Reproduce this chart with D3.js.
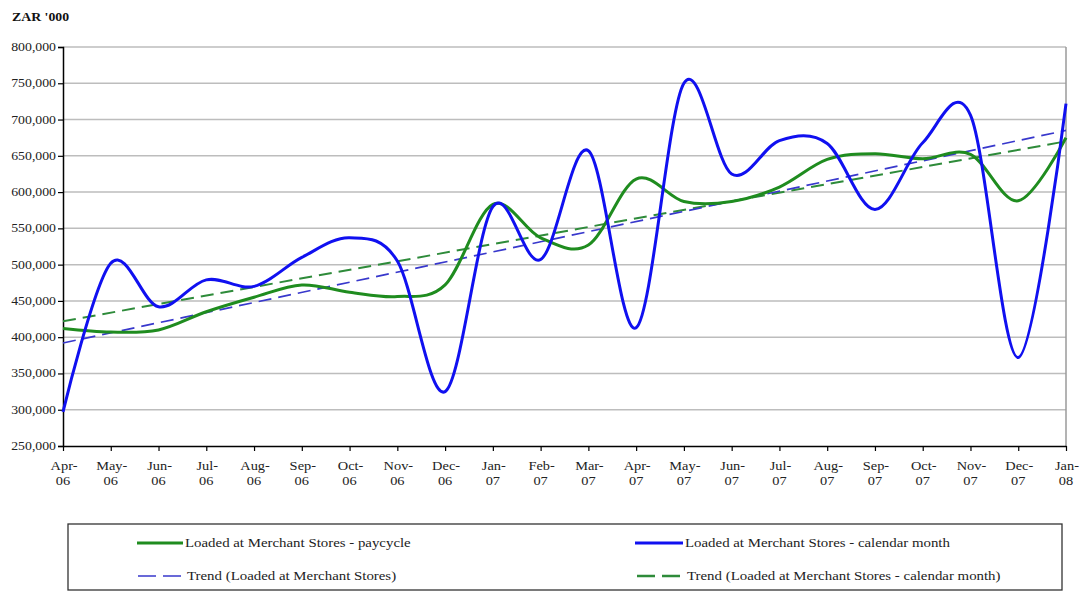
<!DOCTYPE html>
<html><head><meta charset="utf-8">
<script src="https://cdn.jsdelivr.net/npm/d3@7"></script>
<style>body{margin:0;background:#fff}svg{display:block}svg text{font-family:"Liberation Serif","DejaVu Serif","Times New Roman",serif}</style>
</head><body>
<svg id="c" width="1084" height="592"></svg>
<script>
const months = ["Apr-06","May-06","Jun-06","Jul-06","Aug-06","Sep-06","Oct-06","Nov-06","Dec-06","Jan-07","Feb-07","Mar-07","Apr-07","May-07","Jun-07","Jul-07","Aug-07","Sep-07","Oct-07","Nov-07","Dec-07","Jan-08"];
const paycycle = [412000,407000,410000,435000,455000,472000,462000,456000,472000,583000,537000,527000,618000,587000,587000,607000,645000,653000,646000,652000,588000,675000];
const calendarMonth = [297000,502000,442000,479000,470000,510000,537000,505000,325000,580000,507000,657000,413000,750000,625000,671000,667000,576000,668000,706000,372000,722000];
const trendMerchant = [392000,685000];
const trendCalendar = [422000,670000];
const yTicks = [250000,300000,350000,400000,450000,500000,550000,600000,650000,700000,750000,800000];
const unitLabel = "ZAR '000";
const legendLabels = ["Loaded at Merchant Stores - paycycle","Loaded at Merchant Stores - calendar month","Trend (Loaded at Merchant Stores)","Trend (Loaded at Merchant Stores - calendar month)"];

const svg = d3.select("#c");
const L=63,R=1066,T=47,B=446;
const SX=1.2;
const x = d3.scalePoint().domain(months).range([L,R]);
const y = d3.scaleLinear().domain([250000,800000]).range([B,T]);

function txt(g,px,py,s,opts={}){
  const t=g.append("text").attr("transform",`translate(${px},${py}) scale(${opts.sx||SX},1)`)
    .attr("font-size",opts.size||12).attr("fill",opts.fill||"#222")
    .attr("text-anchor",opts.anchor||"start").text(s);
  if(opts.bold) t.attr("font-weight","bold");
  return t;
}

// gridlines
svg.append("g").selectAll("line").data(yTicks.slice(1)).join("line")
  .attr("x1",L).attr("x2",R).attr("y1",d=>y(d)).attr("y2",d=>y(d))
  .attr("stroke","#bdbdbd").attr("stroke-width",1.5);
svg.append("line").attr("x1",R).attr("x2",R).attr("y1",T).attr("y2",B).attr("stroke","#9a9a9a").attr("stroke-width",1.5);

// y axis
const yAxis = svg.append("g").attr("transform",`translate(${L},0)`)
  .call(d3.axisLeft(y).tickValues(yTicks).tickSize(5).tickFormat(""));
yAxis.select(".domain").attr("stroke","#000").attr("stroke-width",1.5);
yAxis.selectAll(".tick line").attr("stroke","#000").attr("stroke-width",1.2);
const fmt=d3.format(",");
yTicks.forEach(v=>txt(svg,56,y(v)+4,fmt(v),{anchor:"end",size:11.5}));

// x axis
const xAxis = svg.append("g").attr("transform",`translate(0,${B})`)
  .call(d3.axisBottom(x).tickSize(5).tickSizeOuter(0).tickFormat(""));
xAxis.select(".domain").attr("stroke","#000").attr("stroke-width",1.5);
xAxis.selectAll(".tick line").attr("stroke","#000").attr("stroke-width",1.2);
months.forEach(m=>{
  const [a,b]=m.split("-");
  txt(svg,x(m)+1,B+24,a+"-",{anchor:"middle",size:12});
  txt(svg,x(m),B+39,b,{anchor:"middle",size:12});
});

txt(svg,12,21,unitLabel,{bold:true,size:12,sx:1.15,fill:"#111"});

// trends
const ends=[months[0],months[months.length-1]];
const tl = d3.line().x((d,i)=>x(ends[i])).y(d=>y(d));
svg.append("path").datum(trendCalendar).attr("d",tl).attr("fill","none")
  .attr("stroke","#2e8b3a").attr("stroke-width",2).attr("stroke-dasharray","13,7");
svg.append("path").datum(trendMerchant).attr("d",tl).attr("fill","none")
  .attr("stroke","#3838cc").attr("stroke-width",1.7).attr("stroke-dasharray","13,7");

// series
const line = d3.line().x((d,i)=>x(months[i])).y(d=>y(d)).curve(d3.curveCatmullRom.alpha(0));
svg.append("path").datum(paycycle).attr("d",line).attr("fill","none")
  .attr("stroke","#1f8c1f").attr("stroke-width",3);
svg.append("path").datum(calendarMonth).attr("d",line).attr("fill","none")
  .attr("stroke","#1010f0").attr("stroke-width",3);

// legend
svg.append("rect").attr("x",68).attr("y",524).attr("width",994).attr("height",66)
  .attr("fill","#fff").attr("stroke","#333").attr("stroke-width",1.3);
const leg = [
  {x1:137,x2:183,y:543,c:"#1f8c1f",w:3,dash:null,t:legendLabels[0],tx:185},
  {x1:635,x2:683,y:543,c:"#1010f0",w:3,dash:null,t:legendLabels[1],tx:685},
  {x1:138,x2:181,y:576,c:"#3838cc",w:1.7,dash:"18,7",t:legendLabels[2],tx:187},
  {x1:637,x2:681,y:576,c:"#2e8b3a",w:2.5,dash:"18,7",t:legendLabels[3],tx:687}
];
leg.forEach(d=>{
  svg.append("line").attr("x1",d.x1).attr("x2",d.x2).attr("y1",d.y).attr("y2",d.y)
    .attr("stroke",d.c).attr("stroke-width",d.w).attr("stroke-dasharray",d.dash);
  txt(svg,d.tx,d.y+4,d.t,{size:12,sx:1.24});
});
</script>
</body></html>
